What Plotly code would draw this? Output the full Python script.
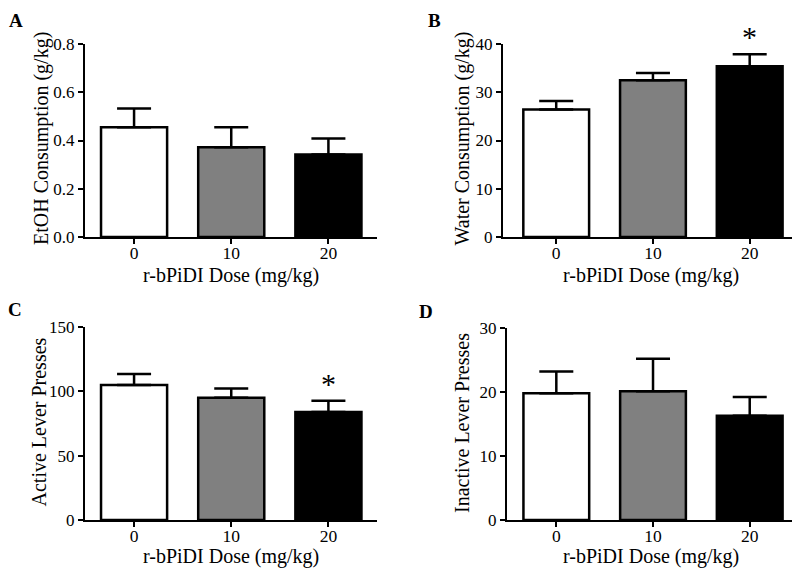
import plotly.graph_objects as go

# ---- data ----
doses = ["0", "10", "20"]
etoh_mean = [0.455, 0.372, 0.342]
etoh_sem = [0.078, 0.083, 0.066]
water_mean = [26.4, 32.5, 35.4]
water_sem = [1.8, 1.5, 2.5]
active_mean = [105.0, 95.0, 84.0]
active_sem = [8.5, 7.2, 8.7]
inactive_mean = [19.8, 20.1, 16.3]
inactive_sem = [3.4, 5.1, 2.9]

bar_colors = ["white", "#808080", "black"]
W, H = 800, 569
OFF = 8  # page body margin of the html
FONT = "Liberation Serif, Times New Roman, serif"

def px_x(x):
    return (x - OFF) / W

def px_y(y):
    return 1 - (y - OFF) / H

panels = [
    dict(letter="A", title="EtOH Consumption (g/kg)", m=etoh_mean, s=etoh_sem,
         yr=[0, 0.8], dt=0.2, fmt=".1f", x0=85, x1=377, top=44, bot=237, xr=[-0.505, 2.5],
         star=None, lx=16, ly=None, tx=41, ty=139, xtx=231, xty=276),
    dict(letter="B", title="Water Consumption (g/kg)", m=water_mean, s=water_sem,
         yr=[0, 40], dt=10, fmt="d", x0=503, x1=800, top=44, bot=237, xr=[-0.55, 2.52],
         star=2, lx=435, ly=None, tx=461.5, ty=139, xtx=650.5, xty=276),
    dict(letter="C", title="Active Lever Presses", m=active_mean, s=active_sem,
         yr=[0, 150], dt=50, fmt="d", x0=85, x1=377, top=327, bot=520, xr=[-0.505, 2.5],
         star=2, lx=14.5, ly=309, tx=38.5, ty=422, xtx=231, xty=556),
    dict(letter="D", title="Inactive Lever Presses", m=inactive_mean, s=inactive_sem,
         yr=[0, 30], dt=10, fmt="d", x0=507, x1=800, top=328, bot=520, xr=[-0.51, 2.52],
         star=None, lx=426.5, ly=311, tx=461.5, ty=423.5, xtx=650.5, xty=556),
]

fig = go.Figure()
annotations = []
layout = {}
for i, p in enumerate(panels):
    n = "" if i == 0 else str(i + 1)
    xa, ya = "x" + n, "y" + n
    fig.add_trace(go.Bar(
        x=doses, y=p["m"], xaxis=xa, yaxis=ya, width=0.68,
        marker=dict(color=bar_colors, line=dict(color="black", width=2.5)),
        error_y=dict(type="data", array=p["s"], arrayminus=[0, 0, 0], symmetric=False,
                     color="black", thickness=2.5, width=17),
        showlegend=False, hoverinfo="skip",
    ))
    layout["xaxis" + n] = dict(
        domain=[px_x(p["x0"]), min(1.0, px_x(p["x1"]))], anchor=ya, range=p["xr"],
        type="category", showline=True, linecolor="black", linewidth=2,
        ticks="outside", ticklen=5, tickwidth=2, tickcolor="black",
        showgrid=False, zeroline=False, automargin=False, ticklabelstandoff=-6,
        tickfont=dict(family=FONT, size=17.5, color="black"), fixedrange=True,
    )
    layout["yaxis" + n] = dict(
        domain=[px_y(p["bot"]), px_y(p["top"])], anchor=xa, range=p["yr"],
        dtick=p["dt"], tick0=0, tickformat=p["fmt"],
        showline=True, linecolor="black", linewidth=2,
        ticks="outside", ticklen=5, tickwidth=2, tickcolor="black",
        showgrid=False, zeroline=False, automargin=False,
        tickfont=dict(family=FONT, size=17, color="black"), fixedrange=True,
    )
    if p["ly"] is None:
        ly, yanch = 1.0, "top"
    else:
        ly, yanch = px_y(p["ly"]), "middle"
    annotations.append(dict(text="<b>%s</b>" % p["letter"], xref="paper", yref="paper",
                            x=px_x(p["lx"]), y=ly, xanchor="center", yanchor=yanch,
                            showarrow=False, font=dict(family=FONT, size=19, color="black")))
    annotations.append(dict(text=p["title"], xref="paper", yref="paper", textangle=-90,
                            x=px_x(p["tx"]), y=px_y(p["ty"]), xanchor="center", yanchor="middle",
                            showarrow=False, font=dict(family=FONT, size=20, color="black")))
    annotations.append(dict(text="r-bPiDI Dose (mg/kg)", xref="paper", yref="paper",
                            x=px_x(p["xtx"]), y=px_y(p["xty"]), xanchor="center", yanchor="middle",
                            showarrow=False, font=dict(family=FONT, size=20, color="black")))
    if p["star"] is not None:
        k = p["star"]
        annotations.append(dict(text="*", xref=xa, yref=ya, x=k, y=p["m"][k] + p["s"][k],
                                xanchor="center", yanchor="bottom", yshift=-1, showarrow=False,
                                font=dict(family=FONT, size=30, color="black")))

fig.update_layout(
    width=W, height=H, margin=dict(l=0, r=0, t=0, b=0, autoexpand=False),
    paper_bgcolor="white", plot_bgcolor="white",
    annotations=annotations, **layout,
)
fig.write_html("out.html")
